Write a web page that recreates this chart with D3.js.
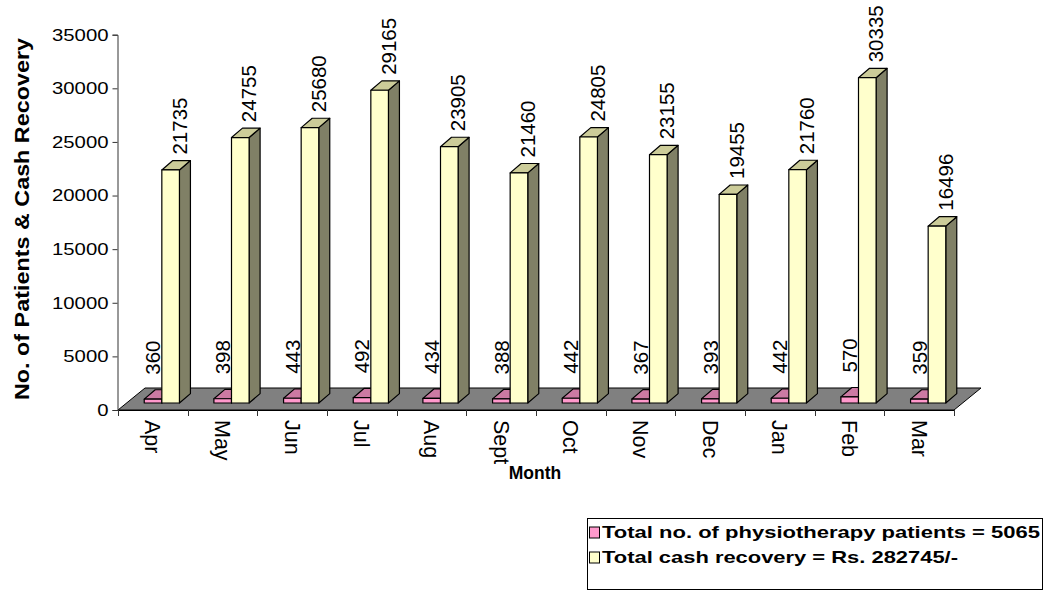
<!DOCTYPE html>
<html>
<head>
<meta charset="utf-8">
<script src="https://cdn.jsdelivr.net/npm/d3@7/dist/d3.min.js"></script>
<style>
  html, body { margin: 0; padding: 0; background: #fff; }
  svg { display: block; font-family: "Liberation Sans", Arial, sans-serif; }
</style>
</head>
<body>
<svg id="chart" width="1049" height="592"></svg>
<script>
// Monthly physiotherapy patients and cash recovery
const months = ["Apr", "May", "Jun", "Jul", "Aug", "Sept", "Oct", "Nov", "Dec", "Jan", "Feb", "Mar"];
const patients = [360, 398, 443, 492, 434, 388, 442, 367, 393, 442, 570, 359];
const cash = [21735, 24755, 25680, 29165, 23905, 21460, 24805, 23155, 19455, 21760, 30335, 16496];
const yTicks = [0, 5000, 10000, 15000, 20000, 25000, 30000, 35000];
const seriesNames = [
  "Total no. of physiotherapy patients = 5065",
  "Total cash recovery = Rs. 282745/-"
];
const yTitle = "No. of Patients & Cash Recovery";
const xTitle = "Month";

const svg = d3.select("#chart");

// Front plane of the 3-D plot
const x = d3.scaleBand().domain(months).range([118, 954]).paddingInner(0).paddingOuter(0);
const y = d3.scaleLinear().domain([0, 35000]).range([410, 34.7]);

// Oblique depth offsets
const floorDepth = { dx: 27, dy: -22 };
const barFront = { dx: 9, dy: -7 };
const barDepth = { dx: 11, dy: -9.4 };
const barW = 17.6;

const series = [
  { values: patients, front: "#FF99CC", top: "#CC7AA3", side: "#804D66" },
  { values: cash, front: "#FFFFCC", top: "#CCCC99", side: "#808066" }
];

// Floor
const x0 = x.range()[0], x1 = x.range()[1], yb = y(0);
svg.append("polygon")
  .attr("points", [
    [x0, yb], [x1, yb],
    [x1 + floorDepth.dx, yb + floorDepth.dy],
    [x0 + floorDepth.dx, yb + floorDepth.dy]
  ].map(p => p.join(",")).join(" "))
  .attr("fill", "#808080")
  .attr("stroke", "#000")
  .attr("stroke-width", 1)
  .attr("stroke-linejoin", "round");

// Y axis
const yAxis = svg.append("g")
  .attr("transform", "translate(117.5,0)")
  .call(d3.axisLeft(y).tickValues(yTicks).tickSize(5).tickPadding(4).tickFormat(d3.format("d")));
yAxis.select(".domain").attr("stroke", "#333");
yAxis.selectAll(".tick line").attr("stroke", "#333");
yAxis.selectAll(".tick text")
  .attr("font-size", 17)
  .attr("fill", "#000")
  .attr("font-family", "'Liberation Sans', Arial, sans-serif")
  .attr("textLength", d => String(d).length * 11.3)
  .attr("lengthAdjust", "spacingAndGlyphs");

// X axis line and band ticks
svg.append("line")
  .attr("x1", x0).attr("x2", x1).attr("y1", yb + 0.5).attr("y2", yb + 0.5)
  .attr("stroke", "#000");
const bounds = months.map(m => x(m)).concat([x1]);
svg.append("g").selectAll("line").data(bounds).join("line")
  .attr("x1", d => Math.round(d) + 0.5).attr("x2", d => Math.round(d) + 0.5)
  .attr("y1", yb).attr("y2", yb + 6)
  .attr("stroke", "#333");

// Bars
const bars = svg.append("g");
months.forEach((m, i) => {
  const cx = x(m) + x.bandwidth() / 2;
  series.forEach((s, k) => {
    const v = s.values[i];
    const left = cx - barW + k * barW + barFront.dx;
    const right = left + barW;
    const bottom = yb + barFront.dy;
    const top = y(v) + barFront.dy;
    const dx = barDepth.dx, dy = barDepth.dy;
    const g = bars.append("g").attr("stroke", "#000").attr("stroke-width", 1.2).attr("stroke-linejoin", "round");
    g.append("polygon")
      .attr("points", [[right, bottom], [right + dx, bottom + dy], [right + dx, top + dy], [right, top]].map(p => p.join(",")).join(" "))
      .attr("fill", s.side);
    g.append("polygon")
      .attr("points", [[left, top], [right, top], [right + dx, top + dy], [left + dx, top + dy]].map(p => p.join(",")).join(" "))
      .attr("fill", s.top);
    g.append("rect")
      .attr("x", left).attr("y", top).attr("width", barW).attr("height", bottom - top)
      .attr("fill", s.front);
  });
});

// Value labels, rotated, reading upward from just above each bar
const labels = svg.append("g").attr("fill", "#000").attr("font-size", 20.5);
months.forEach((m, i) => {
  const cx = x(m) + x.bandwidth() / 2;
  const pv = patients[i];
  labels.append("text")
    .attr("transform", `translate(${cx - barW / 2 + barFront.dx},${y(pv) + barFront.dy + barDepth.dy - 15}) rotate(-90)`)
    .attr("dy", "0.35em")
    .text(pv);
  const cv = cash[i];
  labels.append("text")
    .attr("transform", `translate(${cx + barW / 2 + barFront.dx + 9},${y(cv) + barFront.dy + barDepth.dy - 6}) rotate(-90)`)
    .attr("dy", "0.35em")
    .text(cv);
});

// Category labels
svg.append("g").selectAll("text").data(months).join("text")
  .attr("transform", d => `translate(${x(d) + x.bandwidth() / 2},420) rotate(90)`)
  .attr("dy", "0.35em")
  .attr("font-size", 21.5)
  .text(d => d);

// Axis titles
svg.append("text")
  .attr("transform", "translate(22,219) rotate(-90)")
  .attr("text-anchor", "middle")
  .attr("dy", "0.35em")
  .attr("font-size", 20)
  .attr("font-weight", "bold")
  .attr("textLength", 362)
  .attr("lengthAdjust", "spacingAndGlyphs")
  .text(yTitle);

svg.append("text")
  .attr("x", 535).attr("y", 479)
  .attr("text-anchor", "middle")
  .attr("font-size", 17.5)
  .attr("font-weight", "bold")
  .text(xTitle);

// Legend
const legend = svg.append("g");
legend.append("rect")
  .attr("x", 587.5).attr("y", 518.5).attr("width", 455).attr("height", 71)
  .attr("fill", "#fff").attr("stroke", "#000");
const legendLens = [438, 356];
seriesNames.forEach((name, k) => {
  const by = 537.5 + k * 25;
  legend.append("rect")
    .attr("x", 589.5).attr("y", by - 10.5).attr("width", 10).attr("height", 11)
    .attr("fill", series[k].front).attr("stroke", "#000");
  legend.append("text")
    .attr("x", 602).attr("y", by)
    .attr("font-size", 17)
    .attr("font-weight", "bold")
    .attr("textLength", legendLens[k])
    .attr("lengthAdjust", "spacingAndGlyphs")
    .text(name);
});
</script>
</body>
</html>
